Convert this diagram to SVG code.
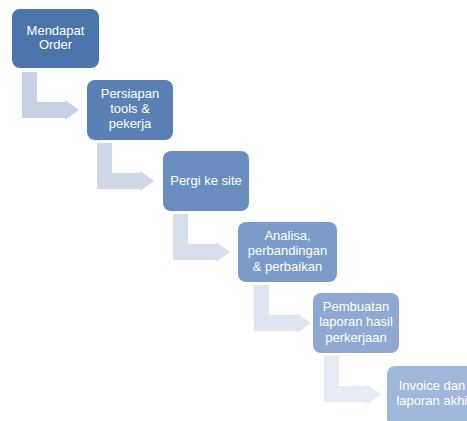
<svg xmlns="http://www.w3.org/2000/svg" width="467" height="421" viewBox="0 0 467 421">
<style>
.box{stroke:none}
.t{font-family:"Liberation Sans",Arial,sans-serif;font-size:13px;fill:#ffffff;text-anchor:middle}
</style>
<rect width="467" height="421" fill="#ffffff"/>
<g id="connectors">
<path d="M22,72 H37 V102 H65 V100 L79,110 L65,120 V118 H22 Z" fill="#c6d1e3"/>
<path d="M97,143 H112 V173 H140 V171 L154,181 L140,191 V189 H97 Z" fill="#cfd8e8"/>
<path d="M173,214 H188 V244 H216 V242 L230,252 L216,262 V260 H173 Z" fill="#d8dfec"/>
<path d="M254,285 H269 V315 H297 V313 L311,323 L297,333 V331 H254 Z" fill="#dfe5f0"/>
<path d="M324,356 H339 V386 H367 V384 L381,394 L367,404 V402 H324 Z" fill="#e6ebf4"/>
</g>
<g id="n1"><rect class="box" x="12" y="9" width="87" height="59" rx="8" fill="#4a74aa"/>
<text class="t" x="55.5" y="35">Mendapat</text><text class="t" x="55.5" y="49">Order</text></g>
<g id="n2"><rect class="box" x="87" y="80" width="86" height="60" rx="8" fill="#5a81b6"/>
<text class="t" x="130" y="98">Persiapan</text><text class="t" x="130" y="113">tools &amp;</text><text class="t" x="130" y="128">pekerja</text></g>
<g id="n3"><rect class="box" x="163" y="151" width="86" height="60" rx="8" fill="#6a8dc0"/>
<text class="t" x="206" y="185">Pergi ke site</text></g>
<g id="n4"><rect class="box" x="238" y="222" width="99" height="60" rx="8" fill="#7b9bca"/>
<text class="t" x="287.5" y="240">Analisa,</text><text class="t" x="287.5" y="255">perbandingan</text><text class="t" x="287.5" y="271">&amp; perbaikan</text></g>
<g id="n5"><rect class="box" x="313" y="293" width="86" height="60" rx="8" fill="#8fa9d3"/>
<text class="t" x="356" y="311">Pembuatan</text><text class="t" x="356" y="326">laporan hasil</text><text class="t" x="356" y="342">perkerjaan</text></g>
<g id="n6"><rect class="box" x="387" y="366" width="100" height="60" rx="8" fill="#a2b7dc"/>
<text class="t" x="432" y="390">Invoice dan</text><text class="t" x="434" y="405">laporan akhir</text></g>
</svg>
